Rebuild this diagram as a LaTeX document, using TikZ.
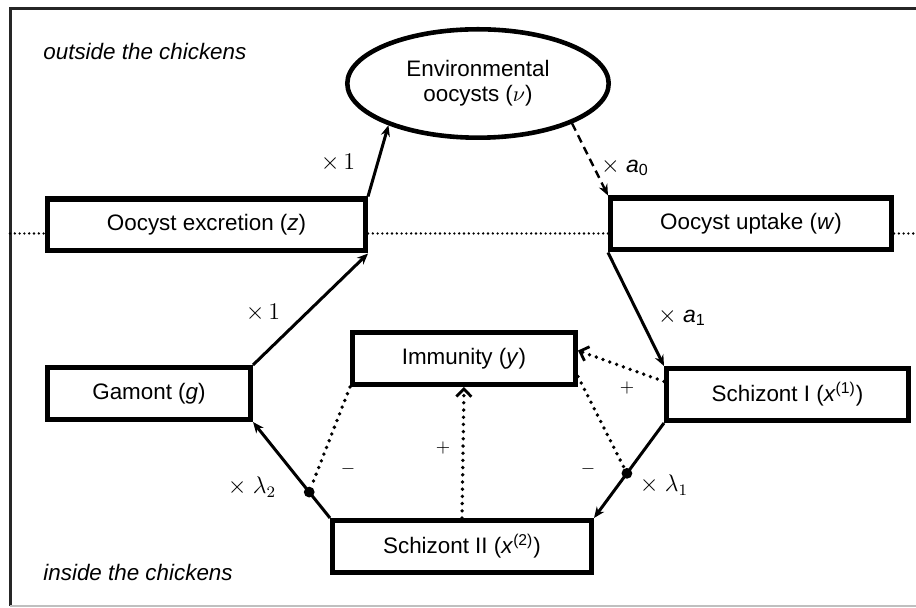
\documentclass[tikz,border=0pt]{standalone}
\usepackage{fontspec}
\setmainfont{Liberation Sans}
\usetikzlibrary{shapes.geometric,arrows.meta}

\begin{document}
\begin{tikzpicture}[x=0.5pt, y=-0.5pt,
    box/.style={rectangle, draw, line width=2.6pt, fill=white,
      minimum height=25.9pt, inner sep=0pt, align=center,
      font=\fontsize{11.2}{13.4}\selectfont},
    pool/.style={ellipse, draw, line width=2.3pt, fill=white,
      minimum width=130.7pt, minimum height=54.2pt, inner sep=0pt,
      align=center, font=\fontsize{11.2}{12.5}\selectfont},
    arrow/.style={-{Stealth[length=5.5pt,width=4.6pt]}, line width=1.5pt},
    effect/.style={line width=1.9pt, line cap=round,
      dash pattern=on 0pt off 3.6pt},
    promote/.style={effect,
      -{Straight Barb[length=3.8pt,width=7.5pt,line width=1.4pt]}},
    blob/.style={circle, fill, inner sep=0pt, minimum size=5.4pt},
    sep/.style={line width=1.3pt, line cap=round,
      dash pattern=on 0pt off 2.4pt},
    rate/.style={font=\fontsize{11.5}{13}\selectfont},
    sign/.style={font=\fontsize{9}{10}\selectfont},
    place/.style={anchor=west, inner sep=0pt,
      font=\fontsize{11.2}{13.4}\selectfont\itshape}
  ]
  \useasboundingbox (0,0) rectangle (916,608);

  % frame and the chicken border
  \coordinate (tl) at (10,9);
  \coordinate (tr) at (916,9);
  \coordinate (bl) at (10,606);
  \coordinate (br) at (916,606);
  \coordinate (sl) at (10,233.5);
  \coordinate (sr) at (916,233.5);
  \draw[line width=1.5pt, black!85] (tr) -- (tl) -- (bl);
  \draw[line width=1pt, black!25] (bl) -- (br);

  \node[place] (out) at (43,52) {outside the chickens};
  \node[place] (in)  at (43,573) {inside the chickens};

  % compartments
  \node[pool] (env) at (478,83.5) {Environmental\\oocysts ($\nu$)};
  \node[box, minimum width=158.9pt] (excr) at (206.5,225) {Oocyst excretion (\textit{z})};
  \node[box, minimum width=140.4pt] (upt)  at (751,224)   {Oocyst uptake (\textit{w})};
  \node[box, minimum width=101.4pt] (gam)  at (149,393.5) {Gamont (\textit{g})};
  \node[box, minimum width=111.4pt] (imm)  at (464,358.5) {Immunity (\textit{y})};
  \node[box, minimum width=120.9pt] (s1)   at (787.5,394.5)
    {Schizont I (\textit{x}\textsuperscript{(1)})};
  \node[box, minimum width=129.4pt] (s2)   at (462,546.5)
    {Schizont II (\textit{x}\textsuperscript{(2)})};

  \draw[sep] (sl) -- (sl -| excr.west) (sl -| excr.east) -- (sl -| upt.west)
    (sl -| upt.east) -- (sr);

  % life cycle
  \draw[arrow] (excr.north east) -- (env.205.6);
  \draw[arrow, line width=1.2pt, dash pattern=on 4pt off 2.6pt]
    (env.337.6) -- (upt.north west);
  \draw[arrow] (upt.south west) -- (s1.north west);
  \draw[arrow] (s1.south west) -- node[blob, pos=0.53] (b1) {} (s2.north east);
  \draw[arrow] (s2.north west) -- node[blob, pos=0.27] (b2) {} (gam.south east);
  \draw[arrow] (gam.north east) -- (excr.south east);

  % immunity
  \draw[promote] (s2.north) -- (imm.south);
  \draw[promote] (s1.174) -- (imm.4);
  \draw[effect] (imm.south west) -- (b2);
  \draw[effect] (imm.-9) -- (b1);

  \node[rate] (r0)  at (338,163) {$\times\,1$};
  \node[rate] (ra0) at (625,167) {$\times$ \textit{a}\textsubscript{0}};
  \node[rate] (r1)  at (263,313) {$\times\,1$};
  \node[rate] (ra1) at (682,317) {$\times$ \textit{a}\textsubscript{1}};
  \node[rate] (rl1) at (664,485) {$\times\ \lambda_1$};
  \node[rate] (rl2) at (252,487) {$\times\ \lambda_2$};
  \node[sign] (p1) at (627,388) {$+$};
  \node[sign] (p2) at (443,448) {$+$};
  \node[sign] (m1) at (588,469) {$-$};
  \node[sign] (m2) at (348,469) {$-$};
\end{tikzpicture}
\end{document}
